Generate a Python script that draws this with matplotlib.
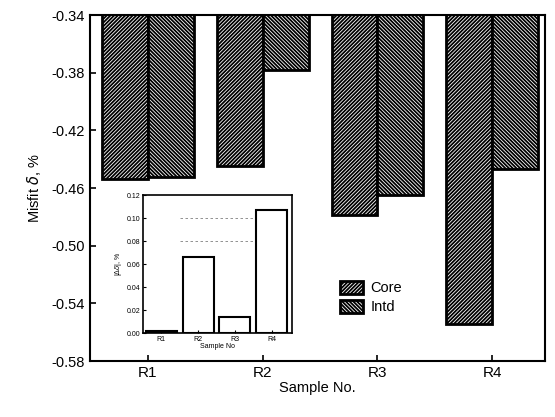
import matplotlib
matplotlib.use("Agg")
import matplotlib.pyplot as plt
import numpy as np

plt.rcParams['font.family'] = ['Liberation Sans', 'DejaVu Sans']
plt.rcParams['hatch.linewidth'] = 1.3

samples = ["R1", "R2", "R3", "R4"]
core = [-0.454, -0.445, -0.479, -0.554]
intd = [-0.452, -0.378, -0.465, -0.447]
diff = [0.002, 0.066, 0.014, 0.107]
yticks = [-0.34, -0.38, -0.42, -0.46, -0.50, -0.54, -0.58]
inset_yticks = [0.00, 0.02, 0.04, 0.06, 0.08, 0.10, 0.12]

fig = plt.figure(figsize=(5.55, 4.17), dpi=100)
ax = fig.add_axes([0.162, 0.134, 0.820, 0.830])

x = np.arange(len(samples))
w = 0.40
ax.bar(x - w/2, core, width=w, facecolor='white', edgecolor='black',
       hatch='/////////', linewidth=2.0, label='Core')
ax.bar(x + w/2, intd, width=w, facecolor='white', edgecolor='black',
       hatch='\\\\\\\\\\\\\\\\\\', linewidth=2.0, label='Intd')
ax.set_ylim(-0.58, -0.34)
ax.set_xlim(-0.506, 3.46)
ax.set_yticks(yticks)
ax.set_yticklabels([f"{t:.2f}" for t in yticks], fontsize=10.5)
ax.set_xticks(x)
ax.set_xticklabels(samples, fontsize=11)
ax.tick_params(direction='in', length=4, width=1.2)
for s in ax.spines.values():
    s.set_linewidth(1.5)
ax.set_ylabel("Misfit $\\delta$, %", fontsize=10.5, labelpad=6)
ax.set_xlabel("Sample No.", fontsize=10.5, labelpad=1)
ax.legend(loc='upper left', bbox_to_anchor=(0.52, 0.27), frameon=False,
          fontsize=10.5, handlelength=1.6, handleheight=1.0,
          handletextpad=0.5, labelspacing=0.3)

ins = fig.add_axes([0.258, 0.201, 0.268, 0.331])
ins.bar(x, diff, width=0.84, facecolor='white', edgecolor='black', linewidth=1.5)
ins.set_xlim(-0.49, 3.55)
ins.set_ylim(0, 0.12)
ins.set_yticks(inset_yticks)
ins.set_yticklabels([f"{t:.2f}" for t in inset_yticks], fontsize=5)
ins.set_xticks(x)
ins.set_xticklabels(samples, fontsize=5)
ins.tick_params(direction='in', length=2, width=0.8, pad=2)
ins.set_ylabel("|$\\Delta\\delta$|, %", fontsize=5, labelpad=2)
ins.set_xlabel("Sample No", fontsize=5, labelpad=0)
for lv in [0.08, 0.10]:
    ins.axhline(lv, xmin=0.25, xmax=0.82, color='gray', lw=0.6, ls=(0, (3, 3)), zorder=0)
for s in ins.spines.values():
    s.set_linewidth(1.2)

fig.savefig("out.png", dpi=100)
